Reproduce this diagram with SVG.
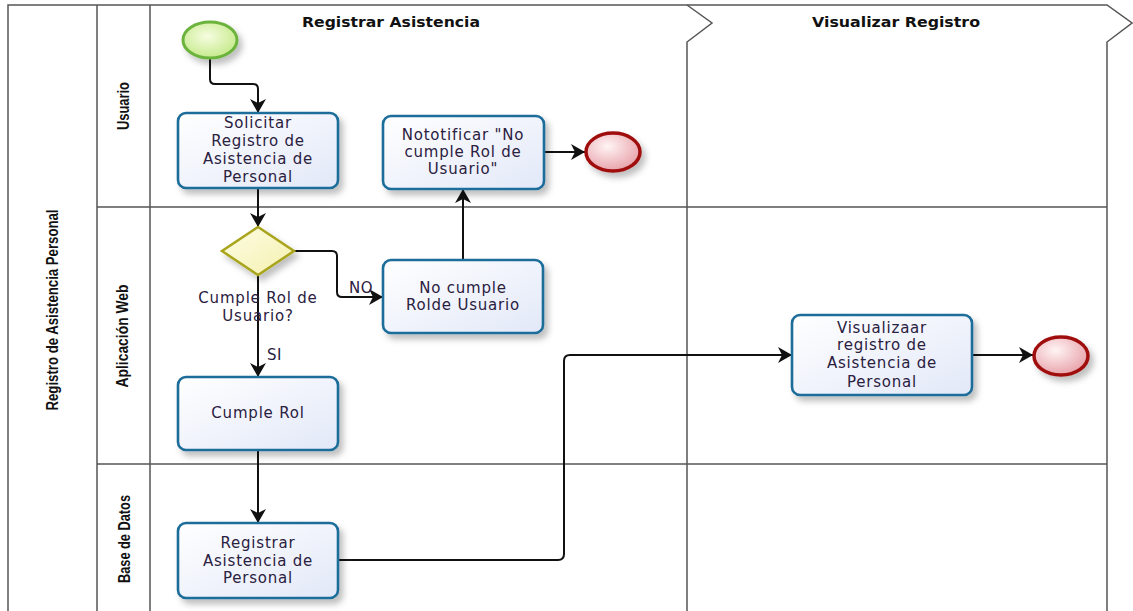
<svg xmlns="http://www.w3.org/2000/svg" width="1133" height="611" viewBox="0 0 1133 611">
<defs>
<linearGradient id="taskFill" x1="0" y1="0" x2="1" y2="1"><stop offset="0" stop-color="#ffffff"/><stop offset="1" stop-color="#e2e8f8"/></linearGradient>
<radialGradient id="startFill" cx="0.45" cy="0.4" r="0.6"><stop offset="0" stop-color="#f6fde0"/><stop offset="1" stop-color="#c6ea8c"/></radialGradient>
<radialGradient id="endFill" cx="0.4" cy="0.35" r="0.65"><stop offset="0" stop-color="#fff4f4"/><stop offset="1" stop-color="#e8a4ac"/></radialGradient>
<linearGradient id="gwFill" x1="0" y1="0" x2="1" y2="1"><stop offset="0" stop-color="#fefde4"/><stop offset="1" stop-color="#f4f0b0"/></linearGradient>
<filter id="shadow" x="-20%" y="-20%" width="150%" height="160%"><feDropShadow dx="4" dy="5" stdDeviation="3" flood-color="#000" flood-opacity="0.25"/></filter>
<marker id="arrow" markerWidth="16" markerHeight="16" refX="14" refY="8" orient="auto" markerUnits="userSpaceOnUse"><path d="M0,0 L14,8 L0,16 L4,8 z" fill="#111"/></marker>
</defs>
<style>
.pool{fill:none;stroke:#555;stroke-width:1.5}
.task{fill:url(#taskFill);stroke:#1d6d9a;stroke-width:2.6;filter:url(#shadow)}
.tt{font-family:"DejaVu Sans",sans-serif;font-size:15px;letter-spacing:0.8px;fill:#2a2040;text-anchor:middle}
.hdr{font-family:"DejaVu Sans",sans-serif;font-weight:bold;font-size:14.5px;fill:#111;text-anchor:middle}
.lane{font-family:"Liberation Sans",sans-serif;font-weight:bold;font-size:16px;fill:#111;text-anchor:middle}
.conn{fill:none;stroke:#111;stroke-width:2}
.lbl{font-family:"DejaVu Sans",sans-serif;font-size:15px;letter-spacing:0.6px;fill:#2a2040}
</style>
<rect width="1133" height="611" fill="#fff"/>
<g id="pool">
<path class="pool" d="M8,611 V5 H1107 L1132,23 L1107,42 V611" stroke="#444"/>
<line class="pool" x1="97" y1="5" x2="97" y2="611"/>
<line class="pool" x1="150" y1="5" x2="150" y2="611"/>
<line class="pool" x1="97" y1="207" x2="1107" y2="207"/>
<line class="pool" x1="97" y1="464" x2="1107" y2="464"/>
<path class="pool" d="M687,5 L712,23 L687,42 V611"/>
<text class="hdr" x="391" y="27" textLength="178" lengthAdjust="spacingAndGlyphs">Registrar Asistencia</text>
<text class="hdr" x="896" y="27" textLength="168" lengthAdjust="spacingAndGlyphs">Visualizar Registro</text>
<text class="lane" transform="translate(58,310) rotate(-90)" textLength="201" lengthAdjust="spacingAndGlyphs">Registro de Asistencia Personal</text>
<text class="lane" transform="translate(129,106) rotate(-90)" textLength="48" lengthAdjust="spacingAndGlyphs">Usuario</text>
<text class="lane" transform="translate(128,336) rotate(-90)" textLength="103" lengthAdjust="spacingAndGlyphs">Aplicación  Web</text>
<text class="lane" transform="translate(130,539) rotate(-90)" textLength="88" lengthAdjust="spacingAndGlyphs">Base de Datos</text>
</g>
<g id="connectors">
<path class="conn" d="M210,59 V79 Q210,84 215,84 H253 Q258,84 258,89 V113" marker-end="url(#arrow)"/>
<path class="conn" d="M258,188 V227" marker-end="url(#arrow)"/>
<path class="conn" d="M294,251 H332 Q337,251 337,256 V292 Q337,297 342,297 H383" marker-end="url(#arrow)"/>
<text class="lbl" x="349" y="293">NO</text>
<path class="conn" d="M258,275 V377" marker-end="url(#arrow)"/>
<text class="lbl" x="267" y="360">SI</text>
<path class="conn" d="M463,260 V189" marker-end="url(#arrow)"/>
<path class="conn" d="M544,152 H585" marker-end="url(#arrow)"/>
<path class="conn" d="M258,450 V523" marker-end="url(#arrow)"/>
<path class="conn" d="M338,560 H558 Q564,560 564,554 V361 Q564,355 570,355 H792" marker-end="url(#arrow)"/>
<path class="conn" d="M972,355 H1033" marker-end="url(#arrow)"/>
</g>
<g id="start">
<ellipse cx="210" cy="40" rx="27" ry="18" fill="url(#startFill)" stroke="#6cb33e" stroke-width="3" filter="url(#shadow)"/>
</g>
<g id="task-solicitar">
<rect class="task" x="178" y="113" width="160" height="75" rx="8"/>
<text class="tt" x="258" y="128">Solicitar</text>
<text class="tt" x="258" y="146">Registro de</text>
<text class="tt" x="258" y="164">Asistencia de</text>
<text class="tt" x="258" y="182">Personal</text>
</g>
<g id="gateway">
<polygon points="258,227 294,251 258,275 222,251" fill="url(#gwFill)" stroke="#a8a41c" stroke-width="2.5" filter="url(#shadow)"/>
<text class="tt" x="258" y="303">Cumple Rol de</text>
<text class="tt" x="258" y="321">Usuario?</text>
</g>
<g id="task-nocumple">
<rect class="task" x="383" y="260" width="160" height="73" rx="8"/>
<text class="tt" x="463" y="293">No cumple</text>
<text class="tt" x="463" y="310">Rolde Usuario</text>
</g>
<g id="task-notificar">
<rect class="task" x="383" y="116" width="161" height="73" rx="8"/>
<text class="tt" x="463" y="140">Nototificar "No</text>
<text class="tt" x="463" y="157">cumple Rol de</text>
<text class="tt" x="463" y="174">Usuario"</text>
</g>
<g id="end1">
<ellipse cx="613" cy="152" rx="27" ry="19" fill="url(#endFill)" stroke="#a01010" stroke-width="3.5" filter="url(#shadow)"/>
</g>
<g id="task-cumple">
<rect class="task" x="178" y="377" width="160" height="73" rx="8"/>
<text class="tt" x="258" y="418">Cumple Rol</text>
</g>
<g id="task-registrar">
<rect class="task" x="178" y="523" width="160" height="75" rx="8"/>
<text class="tt" x="258" y="548">Registrar</text>
<text class="tt" x="258" y="566">Asistencia de</text>
<text class="tt" x="258" y="583">Personal</text>
</g>
<g id="task-visualizar">
<rect class="task" x="792" y="315" width="180" height="80" rx="8"/>
<text class="tt" x="882" y="333">Visualizaar</text>
<text class="tt" x="882" y="350">registro de</text>
<text class="tt" x="882" y="368">Asistencia de</text>
<text class="tt" x="882" y="387">Personal</text>
</g>
<g id="end2">
<ellipse cx="1061" cy="356" rx="27" ry="19" fill="url(#endFill)" stroke="#a01010" stroke-width="3.5" filter="url(#shadow)"/>
</g>
</svg>
